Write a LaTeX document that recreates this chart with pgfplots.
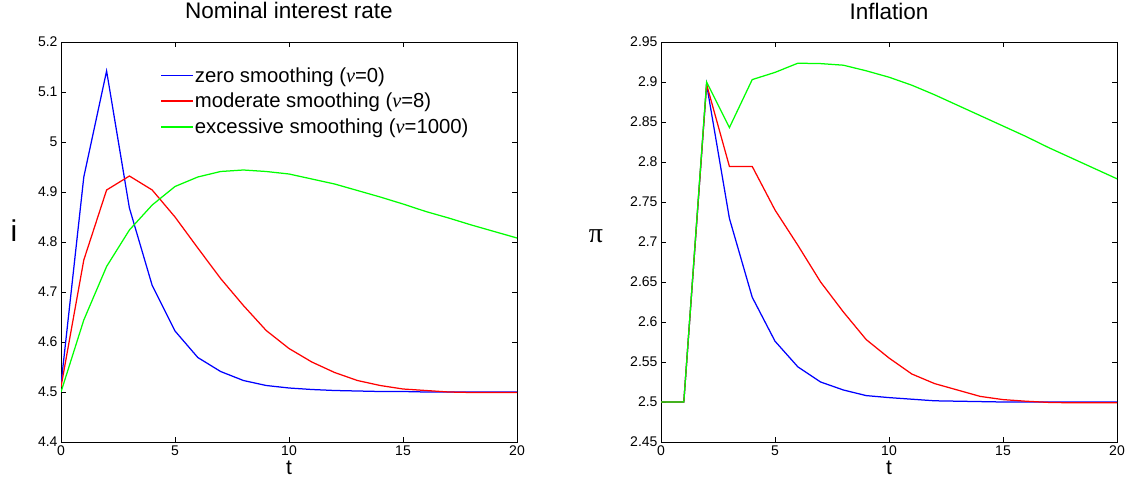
\documentclass[border=0pt]{standalone}
\usepackage{fontspec}
\setmainfont{Liberation Sans}
\newfontfamily\serif{Liberation Serif}
\usepackage{pgfplots}
\pgfplotsset{compat=1.18}
\definecolor{mblue}{RGB}{0,0,255}
\definecolor{mred}{RGB}{255,0,0}
\definecolor{mgreen}{RGB}{0,255,0}
\pgfplotsset{
  mystyle/.style={
    scale only axis, width=456pt, height=400pt,
    xmin=0, xmax=20, xtick={0,5,10,15,20},
    tick align=inside, major tick length=5pt,
    axis line style={line width=0.8pt},
    every tick/.style={black, line width=0.6pt},
    tick label style={font=\fontsize{14}{16}\selectfont},
    /pgf/number format/assume math mode=true,
    title style={font=\fontsize{22.5}{25}\selectfont, at={(axis description cs:0.5,1)}, anchor=base, yshift=17pt, inner sep=0pt},
    xlabel style={font=\fontsize{21}{24}\selectfont, at={(axis description cs:0.5,0)}, anchor=base, yshift=-32pt, inner sep=0pt},
    every axis plot/.append style={line width=1.25pt, mark=none},
    legend image code/.code={\fill[##1, draw=none] (0pt,-0.9pt) rectangle (32pt,0.9pt);},
  }
}
\begin{document}
\begin{tikzpicture}[x=1pt,y=1pt]
\useasboundingbox (0,0) rectangle (1131,479);
\begin{axis}[mystyle, at={(61pt,37pt)}, anchor=south west,
  ymin=4.4, ymax=5.2, ytick={4.4,4.5,4.6,4.7,4.8,4.9,5.0,5.1,5.2},
  title={Nominal interest rate}, xlabel={t}, ylabel={i},
  ylabel style={font=\fontsize{30}{34}\selectfont, rotate=-90, at={(axis description cs:0,0.5)}, anchor=base, xshift=-47pt, inner sep=0pt},
  legend style={at={(0.212,0.947)}, anchor=north west, draw=none, fill=none, font=\fontsize{20.3}{23}\selectfont, row sep=5.5pt},
  legend cell align=left]
\addplot[mblue] coordinates {(0,4.515)(1,4.93)(2,5.142)(3,4.868)(4,4.713)(5,4.622)(6,4.569)(7,4.541)(8,4.523)(9,4.513)(10,4.508)(11,4.505)(12,4.503)(13,4.502)(14,4.501)(15,4.501)(16,4.5)(17,4.5)(18,4.5)(19,4.5)(20,4.5)};
\addplot[mred] coordinates {(0,4.51)(1,4.764)(2,4.904)(3,4.932)(4,4.904)(5,4.85)(6,4.788)(7,4.727)(8,4.673)(9,4.623)(10,4.587)(11,4.56)(12,4.539)(13,4.523)(14,4.513)(15,4.506)(16,4.503)(17,4.5)(18,4.499)(19,4.499)(20,4.499)};
\addplot[mgreen] coordinates {(0,4.5)(1,4.644)(2,4.751)(3,4.824)(4,4.874)(5,4.911)(6,4.93)(7,4.941)(8,4.944)(9,4.941)(10,4.936)(11,4.926)(12,4.916)(13,4.903)(14,4.89)(15,4.876)(16,4.861)(17,4.848)(18,4.834)(19,4.821)(20,4.808)};
\legend{zero smoothing ({\serif\itshape ν}=0), moderate smoothing ({\serif\itshape ν}=8), excessive smoothing ({\serif\itshape ν}=1000)}
\end{axis}
\begin{axis}[mystyle, at={(661pt,37pt)}, anchor=south west,
  ymin=2.45, ymax=2.95, ytick={2.45,2.5,2.55,2.6,2.65,2.7,2.75,2.8,2.85,2.9,2.95},
  title={Inflation}, xlabel={t}, ylabel={{\serif π}},
  ylabel style={font=\fontsize{28}{32}\selectfont, rotate=-90, at={(axis description cs:0,0.5)}, anchor=base, xshift=-65pt, inner sep=0pt}]
\addplot[mblue] coordinates {(0,2.5)(1,2.5)(2,2.897)(3,2.7295)(4,2.631)(5,2.576)(6,2.544)(7,2.525)(8,2.515)(9,2.508)(10,2.5055)(11,2.5035)(12,2.5015)(13,2.501)(14,2.5005)(15,2.5)(16,2.5)(17,2.5)(18,2.5)(19,2.5)(20,2.5)};
\addplot[mred] coordinates {(0,2.5)(1,2.5)(2,2.897)(3,2.7945)(4,2.7945)(5,2.74)(6,2.696)(7,2.65)(8,2.6125)(9,2.578)(10,2.555)(11,2.535)(12,2.523)(13,2.515)(14,2.507)(15,2.503)(16,2.501)(17,2.4995)(18,2.499)(19,2.499)(20,2.499)};
\addplot[mgreen] coordinates {(0,2.5)(1,2.5)(2,2.9)(3,2.843)(4,2.903)(5,2.912)(6,2.9235)(7,2.923)(8,2.921)(9,2.914)(10,2.906)(11,2.896)(12,2.884)(13,2.871)(14,2.858)(15,2.845)(16,2.832)(17,2.818)(18,2.805)(19,2.792)(20,2.779)};
\end{axis}
\end{tikzpicture}
\end{document}
